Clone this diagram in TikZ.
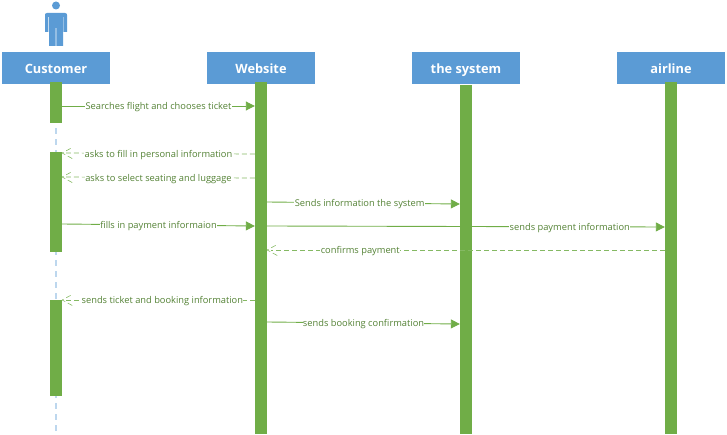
\documentclass[tikz,border=0pt]{standalone}
\usepackage{fontspec}
\setmainfont{Open Sans}
\usetikzlibrary{arrows.meta,calc}
\definecolor{hdr}{HTML}{5B9BD5}
\definecolor{grn}{HTML}{70AD47}
\definecolor{life}{HTML}{BDD7EE}
\definecolor{msgtxt}{HTML}{548235}
\pgfdeclarearrow{
  name=chevtip,
  setup code={\pgfarrowssettipend{0pt}\pgfarrowssetlineend{-4pt}\pgfarrowssetvisualbackend{-10pt}\pgfarrowssetbackend{-10pt}\pgfarrowshullpoint{-10pt}{5.5pt}\pgfarrowshullpoint{-10pt}{-5.5pt}\pgfarrowshullpoint{0pt}{0pt}},
  drawing code={\pgfsetlinewidth{0.6pt}\pgfsetroundjoin\pgfpathmoveto{\pgfpoint{-10pt}{5.5pt}}\pgfpathlineto{\pgfpoint{0pt}{0pt}}\pgfpathlineto{\pgfpoint{-10pt}{-5.5pt}}\pgfusepathqstroke}
}
\tikzset{
 head/.style={fill=hdr,draw=none,text=white,minimum width=108pt,minimum height=32pt,inner sep=0pt,font=\fontsize{12.8pt}{14pt}\selectfont\bfseries,text depth=0pt,align=center},
 bar/.style={fill=grn,draw=none,minimum width=12pt,inner sep=0pt,anchor=north},
 msg/.style={fill=white,text=msgtxt,inner sep=0.4pt,yshift=-1.2pt,font=\fontsize{9.3pt}{11pt}\selectfont},
 sync/.style={draw=grn,line width=0.9pt,-{Triangle[length=9pt,width=9pt,fill=grn]}},
 ret/.style={draw=grn!85!white,line width=0.7pt,dash pattern=on 5pt off 3pt,-{chevtip}},
 lifeline/.style={draw=life,line width=1.2pt,dash pattern=on 6pt off 5pt}
}
\begin{document}
\begin{tikzpicture}[x=1pt,y=-1pt]
\useasboundingbox (0,0) rectangle (727,435);
% person
\fill[hdr] (56,5.5) circle (4);
\fill[hdr] (47,13) -- (65,13) .. controls (66.5,13) and (67,14) .. (67,15) -- (67,32) -- (63.6,32) -- (63.6,17) -- (63,17) -- (63,46) -- (56.4,46) -- (56.4,28) -- (55.6,28) -- (55.6,46) -- (49,46) -- (49,17) -- (48.4,17) -- (48.4,32) -- (45,32) -- (45,15) .. controls (45,14) and (45.5,13) .. (47,13) -- cycle;
% lifelines
\coordinate (llend) at (56,433);
\node[head] (cust) at (56,68) {\raisebox{-1pt}{Customer}};
\node[head] (web) at (261,68) {\raisebox{-1pt}{Website}};
\node[head] (sys) at (466,68) {\raisebox{-1pt}{the system}};
\node[head] (air) at (671,68) {\raisebox{-1pt}{airline}};
\draw[lifeline] (cust.south) -- (llend);
% bars
\node[bar,minimum height=41pt] (c1) at (56,82) {};
\node[bar,minimum height=100pt] (c2) at (56,152) {};
\node[bar,minimum height=96pt] (c3) at (56,300) {};
\node[bar,minimum height=352pt] (w) at (261,82) {};
\node[bar,minimum height=349pt] (s) at (466,85) {};
\node[bar,minimum height=352pt] (a) at (671,82) {};
% messages
\draw[sync] (c1.east |- 0,106) -- node[msg,pos=.5]{Searches flight and chooses ticket} (w.west |- 0,106);
\draw[ret] (w.west |- 0,154) -- node[msg,pos=.5]{asks to fill in personal information} (c2.east |- 0,153);
\draw[ret] (w.west |- 0,178) -- node[msg,pos=.5]{asks to select seating and luggage} (c2.east |- 0,177);
\draw[sync] (w.east |- 0,202) -- node[msg,pos=.48]{Sends information the system} (s.west |- 0,204);
\draw[sync] (c2.east |- 0,224) -- node[msg,pos=.5]{fills in payment informaion} (w.west |- 0,226);
\draw[sync] (w.east |- 0,226) -- node[msg,pos=.761]{sends payment information} (a.west |- 0,227);
\draw[ret] (a.west |- 0,250) -- node[msg,pos=.766]{confirms payment} (w.east |- 0,250);
\draw[ret] (w.west |- 0,300) -- node[msg,pos=.48]{sends ticket and booking information} (c3.east |- 0,300);
\draw[sync] (w.east |- 0,322) -- node[msg,pos=.5]{sends booking confirmation} (s.west |- 0,324);
\end{tikzpicture}
\end{document}
